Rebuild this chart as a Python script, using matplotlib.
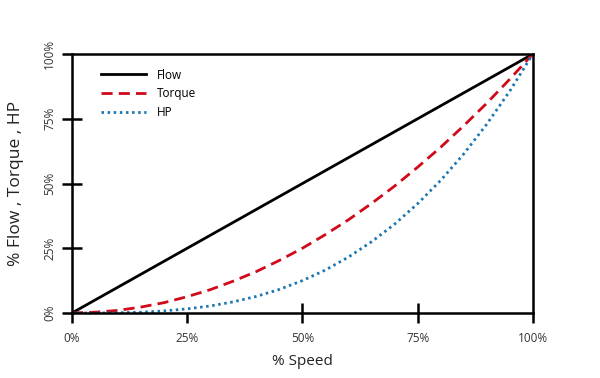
import matplotlib
matplotlib.use('Agg')
import matplotlib.pyplot as plt

plt.rcParams['font.family'] = ['Open Sans', 'DejaVu Sans']

# % speed and the three affinity-law curves
speed = [0, 5, 10, 15, 20, 25, 30, 35, 40, 45, 50, 55, 60, 65, 70, 75, 80, 85, 90, 95, 100]
flow = [0, 5, 10, 15, 20, 25, 30, 35, 40, 45, 50, 55, 60, 65, 70, 75, 80, 85, 90, 95, 100]
torque = [0, 0.3, 1, 2.3, 4, 6.3, 9, 12.3, 16, 20.3, 25, 30.3, 36, 42.3, 49, 56.3, 64, 72.3, 81, 90.3, 100]
hp = [0, 0.0, 0.1, 0.3, 0.8, 1.6, 2.7, 4.3, 6.4, 9.1, 12.5, 16.6, 21.6, 27.5, 34.3, 42.2, 51.2, 61.4, 72.9, 85.7, 100]

out_ticks = [0, 25, 100]
inout_ticks_x = [50, 75]
edge_ticks_y = [0, 100]
inout_ticks_y = [25, 50, 75]

fig = plt.figure(figsize=(6, 3.78), dpi=100)
ax = fig.add_axes([0.12, 0.172, 0.768, 0.685])

ax.plot(speed, flow, color='black', linewidth=2, label='Flow')
ax.plot(speed, torque, color='#d0091b', linewidth=2, linestyle=(0, (4, 2.2)), label='Torque')
ax.plot(speed, hp, color='#1b75b0', linewidth=2, linestyle=(0, (0.9, 1.3)), label='HP')

ax.set_xlim(0, 100)
ax.set_ylim(0, 100)

# major ticks point outward, minor ticks cross the spine
ax.set_xticks(out_ticks, [f'{v}%' for v in out_ticks])
ax.set_xticks(inout_ticks_x, [f'{v}%' for v in inout_ticks_x], minor=True)
ax.set_yticks(edge_ticks_y, [f'{v}%' for v in edge_ticks_y])
ax.set_yticks(inout_ticks_y, [f'{v}%' for v in inout_ticks_y], minor=True)

ax.tick_params(which='major', direction='out', length=7.5, width=1.8, labelsize=8.5, labelcolor='#333333')
ax.tick_params(which='minor', direction='inout', length=15, width=1.8, labelsize=8.5, labelcolor='#333333')
ax.tick_params(axis='x', which='both', pad=6)
ax.tick_params(axis='y', which='both', pad=4)
for lab in ax.get_yticklabels(which='both'):
    lab.set_rotation(90)
    lab.set_va('center')

for sp in ax.spines.values():
    sp.set_linewidth(1.8)

ax.set_xlabel('% Speed', fontsize=11, color='#222222', labelpad=7)
ax.set_ylabel('% Flow , Torque , HP', fontsize=12.5, color='#222222')
ax.yaxis.set_label_coords(-0.104, 0.5)

ax.legend(loc='upper left', bbox_to_anchor=(0.04, 0.985), frameon=False, fontsize=8.5,
          handlelength=3.8, handletextpad=0.9, labelspacing=0.5)

fig.savefig('out.png', dpi=100)
